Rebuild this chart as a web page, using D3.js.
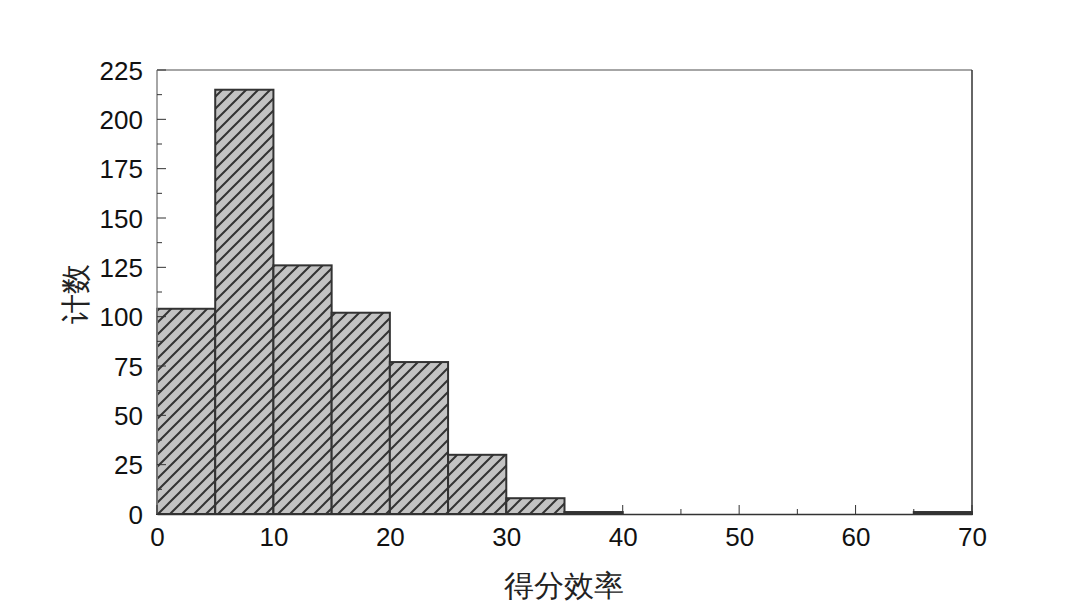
<!DOCTYPE html>
<html>
<head>
<meta charset="utf-8">
<script src="https://cdn.jsdelivr.net/npm/d3@7"></script>
<style>
  body { margin: 0; background: #fff; }
  text { font-family: "Liberation Sans", Arial, sans-serif; }
</style>
</head>
<body>
<script>
// histogram bins (start of each bin, width 5) and counts
var binStarts = [0, 5, 10, 15, 20, 25, 30, 35, 40, 45, 50, 55, 60, 65];
var counts = [104, 215, 126, 102, 77, 30, 8, 1, 0, 0, 0, 0, 0, 1];
var binWidth = 5;
var xTicks = [0, 10, 20, 30, 40, 50, 60, 70];
var yTicks = [0, 25, 50, 75, 100, 125, 150, 175, 200, 225];
var xLabel = "得分效率";
var yLabel = "计数";

var width = 1080, height = 607;
var mLeft = 157, mRight = 972, mTop = 70, mBottom = 514;

var svg = d3.select("body").append("svg")
	.attr("width", width)
	.attr("height", height);

var x = d3.scaleLinear().domain([0, 70]).range([mLeft, mRight]);
var y = d3.scaleLinear().domain([0, 225]).range([mBottom, mTop]);

// hatch pattern
var defs = svg.append("defs");
var pat = defs.append("pattern")
	.attr("id", "hatch")
	.attr("patternUnits", "userSpaceOnUse")
	.attr("width", 12)
	.attr("height", 12);
pat.append("rect").attr("width", 12).attr("height", 12).attr("fill", "#c3c3c3");
pat.append("path")
	.attr("d", "M-3,3 L3,-3 M0,12 L12,0 M9,15 L15,9")
	.attr("stroke", "#333")
	.attr("stroke-width", 2);

var data = binStarts.map(function(s, i){ return {x0: s, n: counts[i]}; });

svg.selectAll("rect.bar")
	.data(data.filter(function(d){ return d.n > 0; }))
	.enter()
		.append("rect")
		.attr("class", "bar")
		.attr("x", function(d){ return x(d.x0); })
		.attr("width", function(d){ return x(d.x0 + binWidth) - x(d.x0); })
		.attr("y", function(d){ return y(d.n); })
		.attr("height", function(d){ return mBottom - y(d.n); })
		.attr("fill", "url(#hatch)")
		.attr("stroke", "#333")
		.attr("stroke-width", 2);

// frame
svg.append("line").attr("x1", mLeft).attr("x2", mRight).attr("y1", mTop).attr("y2", mTop)
	.attr("stroke", "#888").attr("stroke-width", 1.5);
svg.append("line").attr("x1", mLeft).attr("x2", mLeft).attr("y1", mTop).attr("y2", mBottom)
	.attr("stroke", "#888").attr("stroke-width", 1.5);
svg.append("line").attr("x1", mRight).attr("x2", mRight).attr("y1", mTop).attr("y2", mBottom)
	.attr("stroke", "#333").attr("stroke-width", 1.5);

// axes with inward ticks
var xAxis = d3.axisBottom(x).tickValues(xTicks).tickSize(0).tickPadding(14);
var gx = svg.append("g").attr("transform", "translate(0," + mBottom + ")").call(xAxis);
gx.select(".domain").attr("stroke", "#333").attr("stroke-width", 1.5);
gx.selectAll("text").attr("font-size", 26).attr("fill", "#111");

var yAxis = d3.axisLeft(y).tickValues(yTicks).tickSize(0).tickPadding(14);
var gy = svg.append("g").attr("transform", "translate(" + mLeft + ",0)").call(yAxis);
gy.select(".domain").remove();
gy.selectAll("text").attr("font-size", 26).attr("fill", "#111").attr("dy", "0.35em");

// major + minor ticks
var xMinor = d3.range(0, 71, 5);
svg.selectAll("line.xt").data(xMinor).enter().append("line")
	.attr("class", "xt")
	.attr("x1", function(d){ return x(d); }).attr("x2", function(d){ return x(d); })
	.attr("y1", mBottom).attr("y2", function(d){ return d % 10 === 0 ? mBottom - 9 : mBottom - 5; })
	.attr("stroke", "#333").attr("stroke-width", 1);
var yMinor = d3.range(0, 225.1, 12.5);
svg.selectAll("line.yt").data(yMinor).enter().append("line")
	.attr("class", "yt")
	.attr("y1", function(d){ return y(d); }).attr("y2", function(d){ return y(d); })
	.attr("x1", mLeft).attr("x2", function(d){ return d % 25 === 0 ? mLeft + 9 : mLeft + 5; })
	.attr("stroke", "#333").attr("stroke-width", 1);

// axis titles
svg.append("text")
	.attr("x", 564)
	.attr("y", 596)
	.attr("text-anchor", "middle")
	.attr("font-size", 30)
	.attr("font-family", "'Noto Sans CJK SC', sans-serif")
	.attr("font-weight", 300)
	.attr("fill", "#222")
	.text(xLabel);

svg.append("text")
	.attr("transform", "translate(86,294) rotate(-90)")
	.attr("text-anchor", "middle")
	.attr("font-size", 30)
	.attr("font-family", "'Noto Sans CJK SC', sans-serif")
	.attr("font-weight", 300)
	.attr("fill", "#222")
	.text(yLabel);
</script>
</body>
</html>
